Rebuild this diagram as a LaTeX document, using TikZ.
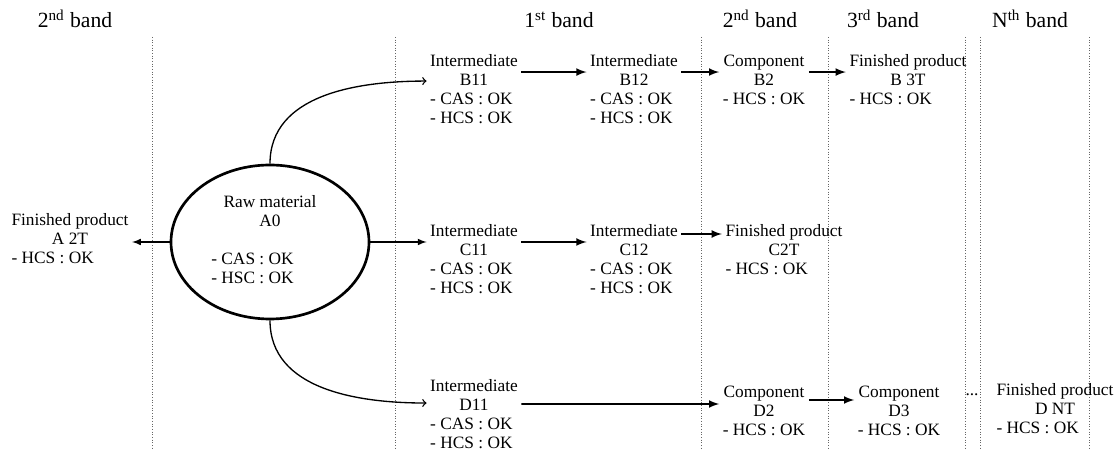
\documentclass[tikz,border=0pt]{standalone}
\usepackage{fontspec}
\setmainfont{Liberation Serif}
\usetikzlibrary{shapes, arrows, positioning}

\newcommand{\ctr}[1]{\multicolumn{1}{@{}c@{}}{#1}}
\newcommand{\prodtext}[1]{\begin{tabular}[t]{@{}l@{}}#1\end{tabular}}

\begin{document}
\begin{tikzpicture}[x=0.6pt, y=-0.6pt,
		font=\fontsize{10.4}{11.4}\selectfont,
		prod/.style={anchor=base, inner sep=2pt},
		title/.style={anchor=base, font=\fontsize{13}{15}\selectfont},
		band/.style={densely dotted, line width=0.6pt, black!60},
		flow/.style={-latex, line width=1.1pt},
		feed/.style={-latex, line width=0.8pt},
		split/.style={->, line width=0.8pt}]
		\useasboundingbox (0,0) rectangle (1115,450);

		% bands
		\node[title] (t0) at (75,28) {2\textsuperscript{nd} band};
		\node[title] (t1) at (559,28) {1\textsuperscript{st} band};
		\node[title] (t2) at (760,28) {2\textsuperscript{nd} band};
		\node[title] (t3) at (883,28) {3\textsuperscript{rd} band};
		\node[title] (tn) at (1030,28) {N\textsuperscript{th} band};
		\draw[band]
			(152,37) -- (152,450)
			(395,37) -- (395,450)
			(701,37) -- (701,450)
			(828,37) -- (828,450)
			(965,37) -- (965,450)
			(980,37) -- (980,450)
			(1089,37) -- (1089,450);

		% raw material
		\node[draw, ellipse, line width=1.6pt, inner sep=0pt,
			minimum width=118.8pt, minimum height=92.4pt] (a0) at (270,242)
			{\begin{tabular}{@{}l@{\hspace{21pt}}}\ctr{Raw material}\\\ctr{A0}\\ \\- CAS : OK\\- HSC : OK\end{tabular}};
		\node[prod] (a2t) at (70,226) {\prodtext{\ctr{Finished product}\\\ctr{A 2T}\\- HCS : OK}};

		% products
		\node[prod] (b11) at (474,66.7) {\prodtext{\ctr{Intermediate}\\\ctr{B11}\\- CAS : OK\\- HCS : OK}};
		\node[prod] (b12) at (634,66.7) {\prodtext{\ctr{Intermediate}\\\ctr{B12}\\- CAS : OK\\- HCS : OK}};
		\node[prod] (b2) at (764,66.7) {\prodtext{\ctr{Component}\\\ctr{B2}\\- HCS : OK}};
		\node[prod] (b3t) at (908,66.7) {\prodtext{\ctr{Finished product}\\\ctr{B 3T}\\- HCS : OK}};

		\node[prod] (c11) at (474,236.5) {\prodtext{\ctr{Intermediate}\\\ctr{C11}\\- CAS : OK\\- HCS : OK}};
		\node[prod] (c12) at (634,236.5) {\prodtext{\ctr{Intermediate}\\\ctr{C12}\\- CAS : OK\\- HCS : OK}};
		\node[prod] (c2t) at (784,236.5) {\prodtext{\ctr{Finished product}\\\ctr{C2T}\\- HCS : OK}};

		\node[prod] (d11) at (474,392) {\prodtext{\ctr{Intermediate}\\\ctr{D11}\\- CAS : OK\\- HCS : OK}};
		\node[prod] (d2) at (764,398) {\prodtext{\ctr{Component}\\\ctr{D2}\\- HCS : OK}};
		\node[prod] (d3) at (899,398) {\prodtext{\ctr{Component}\\\ctr{D3}\\- HCS : OK}};
		\node[prod] (dots) at (972,396) {...};
		\node[prod] (dnt) at (1055,396) {\prodtext{\ctr{Finished product}\\\ctr{D NT}\\- HCS : OK}};

		% links
		\draw[feed] (a0.west) -- (a2t.east |- a0.west);
		\draw[feed] (a0.east) -- (c11.west |- a0.east);
		\draw[split] (a0.north) to[out=90, in=180] ([yshift=6.2pt]b11.west);
		\draw[split] (a0.south) to[out=-90, in=180] ([yshift=8.2pt]d11.west);

		\draw[flow] ([yshift=-3.2pt]b11.base east) -- ([yshift=-3.2pt]b12.base west);
		\draw[flow] ([yshift=-3.2pt]b12.base east) -- ([yshift=-3.2pt]b2.base west);
		\draw[flow] ([yshift=-3.2pt]b2.base east) -- ([yshift=-3.2pt]b3t.base west);
		\draw[flow] ([yshift=-3.3pt]c11.base east) -- ([yshift=-3.3pt]c12.base west);
		\draw[flow] ([yshift=1.5pt]c12.base east) -- ([yshift=1.5pt]c2t.base west);
		\draw[flow] ([yshift=-7.2pt]d11.base east) -- ([yshift=-3.6pt]d2.base west);
		\draw[flow] ([yshift=-1.2pt]d2.base east) -- ([yshift=-1.2pt]d3.base west);
\end{tikzpicture}
\end{document}
